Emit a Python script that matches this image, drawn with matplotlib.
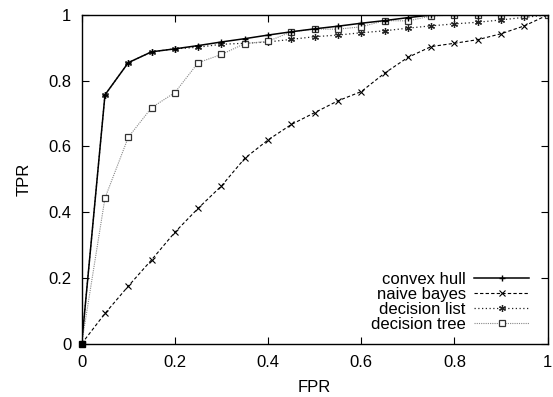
import numpy as np
import matplotlib
matplotlib.use('Agg')
from matplotlib import pyplot as plt

plt.rcParams['font.family'] = ['Liberation Sans', 'DejaVu Sans']

# FPR sample points, 0 .. 1 in steps of 0.05
fpr = [0.0, 0.05, 0.1, 0.15, 0.2, 0.25, 0.3, 0.35, 0.4, 0.45, 0.5,
       0.55, 0.6, 0.65, 0.7, 0.75, 0.8, 0.85, 0.9, 0.95, 1.0]

# TPR values
hull = [0.0, 0.757, 0.855, 0.888, 0.897, 0.907, 0.918, 0.928, 0.939, 0.949, 0.958,
        0.966, 0.975, 0.983, 0.992, 1.0, 1.0, 1.0, 1.0, 1.0, 1.0]
bayes = [0.0, 0.092, 0.175, 0.255, 0.339, 0.412, 0.48, 0.564, 0.62, 0.667, 0.703,
         0.739, 0.767, 0.823, 0.871, 0.904, 0.914, 0.925, 0.943, 0.967, 1.0]
dlist = [0.0, 0.757, 0.855, 0.888, 0.897, 0.902, 0.911, 0.914, 0.918, 0.926, 0.934,
         0.939, 0.946, 0.952, 0.96, 0.967, 0.973, 0.978, 0.985, 0.993, 1.0]
dtree = [0.0, 0.443, 0.628, 0.718, 0.764, 0.855, 0.88, 0.913, 0.92, 0.949, 0.957,
         0.957, 0.964, 0.983, 0.982, 0.997, 1.0, 1.0, 1.0, 1.0, 1.0]

fig = plt.figure(figsize=(5.53, 3.97), dpi=100)
ax = fig.add_axes([0.1477, 0.1343, 0.8427, 0.8279])

# gnuplot-ish styles
ax.plot(fpr, hull, color='black', lw=1.1, marker='+', ms=5, mew=1.0, label='convex hull', zorder=5)
ax.plot(fpr, bayes, color='black', lw=0.8, ls=(0, (3, 2)), marker='x', ms=4, mew=0.8, label='naive bayes')
ax.plot(fpr, dlist, color='#222222', lw=0.9, ls=(0, (1, 2)), marker=(6, 2, 0), ms=5, mew=0.9,
        label='decision list')
ax.plot(fpr, dtree, color='#888888', lw=0.8, ls=(0, (1, 1)), marker='s', ms=4.5, mew=0.9,
        mfc='white', mec='#333333', label='decision tree')
# overlapping markers at the origin look like a filled square
ax.plot(fpr[:1], dtree[:1], ls='none', marker='s', ms=5, color='black', zorder=6, clip_on=False)

ax.set_xlim(0, 1)
ax.set_ylim(0, 1)
ax.set_xticks(np.arange(0, 1.01, 0.2))
ax.set_yticks(np.arange(0, 1.01, 0.2))
ax.set_xticklabels(['0', '0.2', '0.4', '0.6', '0.8', '1'])
ax.set_yticklabels(['0', '0.2', '0.4', '0.6', '0.8', '1'])
ax.tick_params(direction='in', top=True, right=True, length=5, width=0.8, labelsize=12)
ax.tick_params(axis='x', pad=8)
ax.tick_params(axis='y', pad=7.5)
for s in ax.spines.values():
    s.set_linewidth(1.0)

ax.set_xlabel('FPR', fontsize=12, labelpad=7)
ax.set_ylabel('TPR', fontsize=12, labelpad=12)

ax.legend(loc='lower right', frameon=False, markerfirst=False, fontsize=12, numpoints=1,
          handlelength=3.3, labelspacing=0.0, borderaxespad=0.3, handletextpad=0.5,
          bbox_to_anchor=(0.985, 0.0))

fig.savefig('out.png', dpi=100)
